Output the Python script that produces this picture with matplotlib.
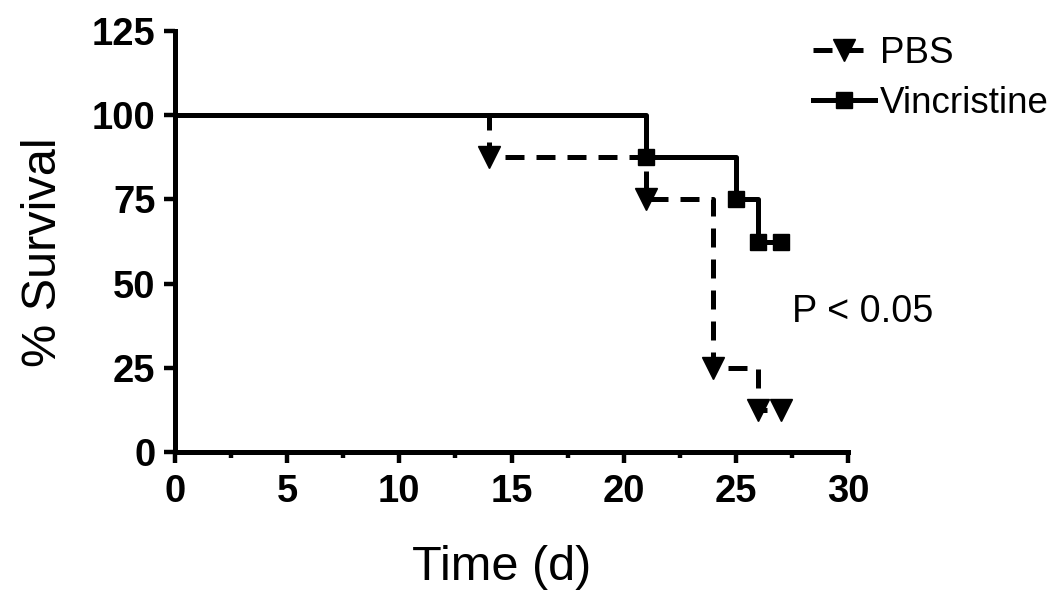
import matplotlib
matplotlib.use("Agg")
import matplotlib.pyplot as plt
from matplotlib.ticker import MultipleLocator

# Data (Kaplan-Meier steps)
pbs_time = [0, 14, 21, 24, 26, 27]
pbs_surv = [100, 87.5, 75, 25, 12.5, 12.5]
vin_time = [0, 21, 25, 26, 27]
vin_surv = [100, 87.5, 75, 62.5, 62.5]
x_ticks = [0, 5, 10, 15, 20, 25, 30]
y_ticks = [0, 25, 50, 75, 100, 125]

plt.rcParams['font.family'] = ['Liberation Sans', 'DejaVu Sans']

fig = plt.figure(figsize=(10.5, 6.06), dpi=100)
ax = fig.add_axes([175/1050, 1-452/606, (848-175)/1050, (452-31)/606])

lw = 3.6
ax.plot(pbs_time, pbs_surv, drawstyle='steps-post', color='black', lw=lw,
        dashes=(3.8, 2.4), marker='v', ms=16, markevery=list(range(1, len(pbs_time))),
        clip_on=False, label='PBS', zorder=3)
ax.plot(vin_time, vin_surv, drawstyle='steps-post', color='black', lw=lw,
        marker='s', ms=11, markevery=list(range(1, len(vin_time))),
        clip_on=False, label='Vincristine', zorder=4)

ax.set_xlim(0, 30)
ax.set_ylim(0, 125)
ax.set_xticks(x_ticks)
ax.set_yticks(y_ticks)
ax.xaxis.set_minor_locator(MultipleLocator(2.5))

for s in ['top', 'right']:
    ax.spines[s].set_visible(False)
for s in ['left', 'bottom']:
    ax.spines[s].set_linewidth(3.6)
    ax.spines[s].set_capstyle('projecting')

ax.tick_params(axis='both', which='major', direction='out', width=3.2, length=8,
               labelsize=27.5, pad=6)
ax.tick_params(axis='x', which='major', length=8, pad=8)
ax.tick_params(axis='x', which='minor', direction='out', width=3.2, length=4.5)
for lab in ax.get_xticklabels() + ax.get_yticklabels():
    lab.set_fontweight('bold')

ax.set_xlabel('Time (d)', fontsize=35)
ax.set_ylabel('% Survival', fontsize=35)
ax.xaxis.set_label_coords((502-175)/673, (452-545)/421)
ax.yaxis.set_label_coords((66-175)/673, (452-252)/421)

ax.text(792, 606-312, 'P < 0.05', fontsize=27.2, transform=None,
        ha='left', va='center')

leg = ax.legend(loc='upper left', bbox_to_anchor=(813/1050, 1-36/606),
                bbox_transform=fig.transFigure, frameon=False, fontsize=26.5,
                handlelength=1.68, handletextpad=0.14, labelspacing=0.4,
                borderpad=0, borderaxespad=0)

fig.savefig('out.png', dpi=100)
